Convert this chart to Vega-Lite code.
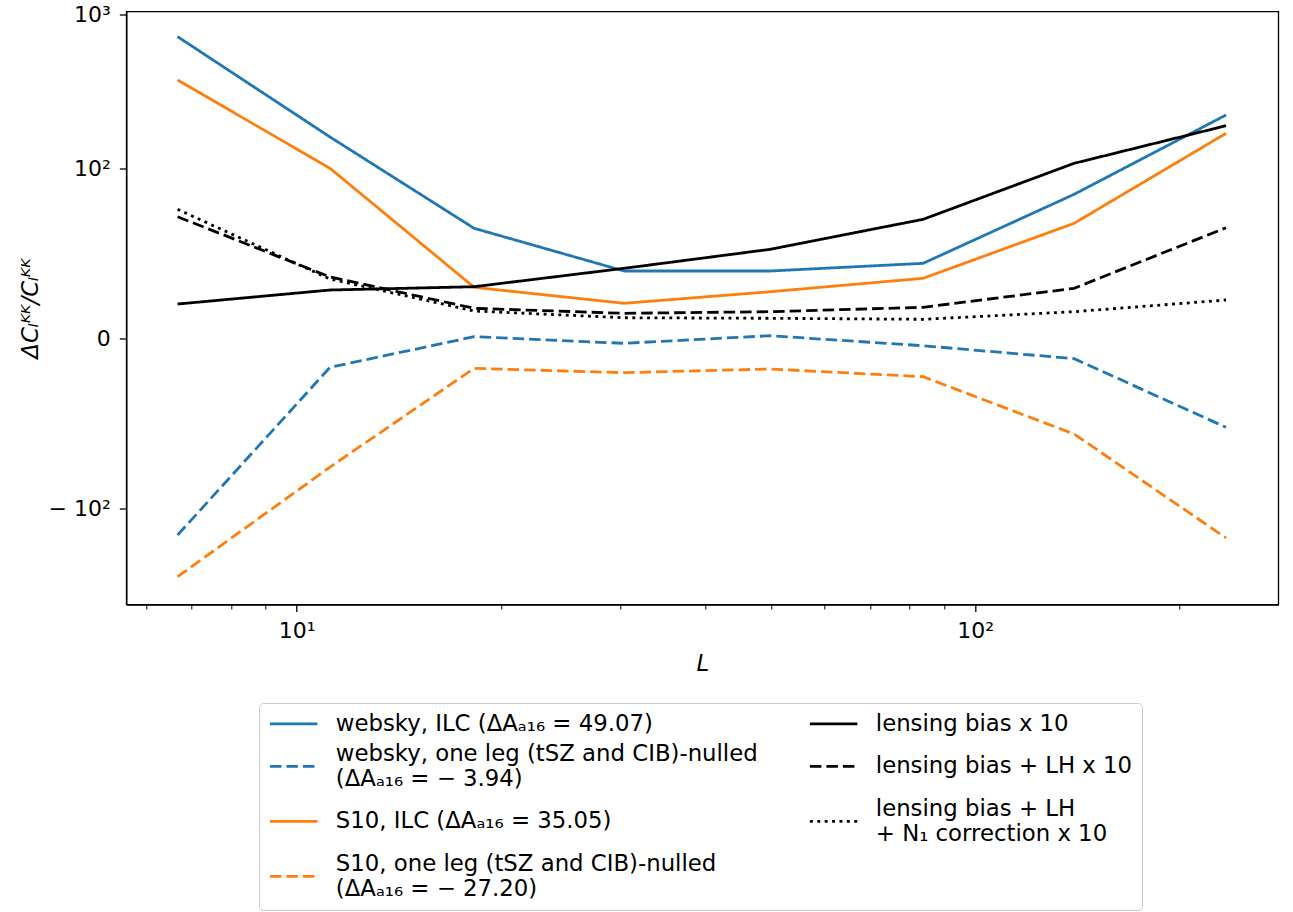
{
  "$schema": "https://vega.github.io/schema/vega-lite/v6.json",
  "width": 1152,
  "height": 593,
  "autosize": {"type": "none"},
  "padding": {"left": 126.3, "top": 11.5, "right": 14.7, "bottom": 307.5},
  "background": "#ffffff",
  "config": {
    "font": "DejaVu Sans",
    "view": {"stroke": "#000000", "strokeWidth": 1.3},
    "axis": {"grid": false, "domainColor": "#000000", "domainWidth": 1.3, "tickColor": "#000000", "tickWidth": 1.3, "tickSize": 7, "labelColor": "#000000", "titleColor": "#000000", "labelFont": "DejaVu Sans", "titleFont": "DejaVu Sans", "labelFontSize": 22, "titleFontSize": 22.8, "titleFontWeight": "normal"}
  },
  "data": {"values": [
    {"s": "websky, ILC (ΔAₐ₁₆ = 49.07)", "L": 6.673, "v": 725.1},
    {"s": "websky, ILC (ΔAₐ₁₆ = 49.07)", "L": 11.196, "v": 162.7},
    {"s": "websky, ILC (ΔAₐ₁₆ = 49.07)", "L": 18.26, "v": 36.55},
    {"s": "websky, ILC (ΔAₐ₁₆ = 49.07)", "L": 30.38, "v": 15.4},
    {"s": "websky, ILC (ΔAₐ₁₆ = 49.07)", "L": 49.87, "v": 15.4},
    {"s": "websky, ILC (ΔAₐ₁₆ = 49.07)", "L": 83.83, "v": 18.31},
    {"s": "websky, ILC (ΔAₐ₁₆ = 49.07)", "L": 139.96, "v": 65.7},
    {"s": "websky, ILC (ΔAₐ₁₆ = 49.07)", "L": 234.4, "v": 227.2},
    {"s": "websky, one leg (tSZ and CIB)-nulled\n (ΔAₐ₁₆ = − 3.94)", "L": 6.673, "v": -151.6},
    {"s": "websky, one leg (tSZ and CIB)-nulled\n (ΔAₐ₁₆ = − 3.94)", "L": 11.196, "v": -4.87},
    {"s": "websky, one leg (tSZ and CIB)-nulled\n (ΔAₐ₁₆ = − 3.94)", "L": 18.26, "v": 0.22},
    {"s": "websky, one leg (tSZ and CIB)-nulled\n (ΔAₐ₁₆ = − 3.94)", "L": 30.38, "v": -0.7},
    {"s": "websky, one leg (tSZ and CIB)-nulled\n (ΔAₐ₁₆ = − 3.94)", "L": 49.87, "v": 0.36},
    {"s": "websky, one leg (tSZ and CIB)-nulled\n (ΔAₐ₁₆ = − 3.94)", "L": 83.83, "v": -1.06},
    {"s": "websky, one leg (tSZ and CIB)-nulled\n (ΔAₐ₁₆ = − 3.94)", "L": 139.96, "v": -3.19},
    {"s": "websky, one leg (tSZ and CIB)-nulled\n (ΔAₐ₁₆ = − 3.94)", "L": 234.4, "v": -24.52},
    {"s": "S10, ILC (ΔAₐ₁₆ = 35.05)", "L": 6.673, "v": 383.1},
    {"s": "S10, ILC (ΔAₐ₁₆ = 35.05)", "L": 11.196, "v": 100.0},
    {"s": "S10, ILC (ΔAₐ₁₆ = 35.05)", "L": 18.26, "v": 10.2},
    {"s": "S10, ILC (ΔAₐ₁₆ = 35.05)", "L": 30.38, "v": 6.16},
    {"s": "S10, ILC (ΔAₐ₁₆ = 35.05)", "L": 49.87, "v": 8.99},
    {"s": "S10, ILC (ΔAₐ₁₆ = 35.05)", "L": 83.83, "v": 12.92},
    {"s": "S10, ILC (ΔAₐ₁₆ = 35.05)", "L": 139.96, "v": 39.99},
    {"s": "S10, ILC (ΔAₐ₁₆ = 35.05)", "L": 234.4, "v": 172.1},
    {"s": "S10, one leg (tSZ and CIB)-nulled\n (ΔAₐ₁₆ = − 27.20)", "L": 6.673, "v": -284.9},
    {"s": "S10, one leg (tSZ and CIB)-nulled\n (ΔAₐ₁₆ = − 27.20)", "L": 11.196, "v": -50.81},
    {"s": "S10, one leg (tSZ and CIB)-nulled\n (ΔAₐ₁₆ = − 27.20)", "L": 18.26, "v": -5.08},
    {"s": "S10, one leg (tSZ and CIB)-nulled\n (ΔAₐ₁₆ = − 27.20)", "L": 30.38, "v": -6.02},
    {"s": "S10, one leg (tSZ and CIB)-nulled\n (ΔAₐ₁₆ = − 27.20)", "L": 49.87, "v": -5.22},
    {"s": "S10, one leg (tSZ and CIB)-nulled\n (ΔAₐ₁₆ = − 27.20)", "L": 83.83, "v": -6.94},
    {"s": "S10, one leg (tSZ and CIB)-nulled\n (ΔAₐ₁₆ = − 27.20)", "L": 139.96, "v": -27.97},
    {"s": "S10, one leg (tSZ and CIB)-nulled\n (ΔAₐ₁₆ = − 27.20)", "L": 234.4, "v": -158.5},
    {"s": "lensing bias x 10", "L": 6.673, "v": 6.0},
    {"s": "lensing bias x 10", "L": 11.196, "v": 9.45},
    {"s": "lensing bias x 10", "L": 18.26, "v": 10.37},
    {"s": "lensing bias x 10", "L": 30.38, "v": 16.38},
    {"s": "lensing bias x 10", "L": 49.87, "v": 24.52},
    {"s": "lensing bias x 10", "L": 83.83, "v": 42.93},
    {"s": "lensing bias x 10", "L": 139.96, "v": 108.2},
    {"s": "lensing bias x 10", "L": 234.4, "v": 193.2},
    {"s": "lensing bias + LH x 10", "L": 6.673, "v": 44.93},
    {"s": "lensing bias + LH x 10", "L": 11.196, "v": 13.34},
    {"s": "lensing bias + LH x 10", "L": 18.26, "v": 5.08},
    {"s": "lensing bias + LH x 10", "L": 30.38, "v": 4.07},
    {"s": "lensing bias + LH x 10", "L": 49.87, "v": 4.39},
    {"s": "lensing bias + LH x 10", "L": 83.83, "v": 5.29},
    {"s": "lensing bias + LH x 10", "L": 139.96, "v": 9.92},
    {"s": "lensing bias + LH x 10", "L": 234.4, "v": 36.95},
    {"s": "lensing bias + LH\n+ N₁ correction x 10", "L": 6.673, "v": 51.07},
    {"s": "lensing bias + LH\n+ N₁ correction x 10", "L": 11.196, "v": 12.69},
    {"s": "lensing bias + LH\n+ N₁ correction x 10", "L": 18.26, "v": 4.53},
    {"s": "lensing bias + LH\n+ N₁ correction x 10", "L": 30.38, "v": 3.24},
    {"s": "lensing bias + LH\n+ N₁ correction x 10", "L": 49.87, "v": 3.14},
    {"s": "lensing bias + LH\n+ N₁ correction x 10", "L": 83.83, "v": 2.96},
    {"s": "lensing bias + LH\n+ N₁ correction x 10", "L": 139.96, "v": 4.39},
    {"s": "lensing bias + LH\n+ N₁ correction x 10", "L": 234.4, "v": 6.92}
  ]},
  "layer": [
    {
      "mark": {"type": "line", "strokeWidth": 2.8, "clip": true},
      "encoding": {
        "x": {"field": "L", "type": "quantitative",
          "scale": {"type": "log", "domain": [5.607, 279.9], "nice": false},
          "axis": {"orient": "bottom", "values": [10, 100], "labelExpr": "datum.value == 10 ? '10¹' : '10²'", "title": "L", "titleFontStyle": "italic", "labelPadding": 9, "titlePadding": 11}},
        "y": {"field": "v", "type": "quantitative",
          "scale": {"type": "symlog", "constant": 9.34, "domain": [-430.4, 1048.2], "nice": false, "zero": false},
          "axis": {"values": [-100, 0, 100, 1000], "labelExpr": "datum.value == 1000 ? '10³' : datum.value == 100 ? '10²' : datum.value == 0 ? '0' : '− 10²'", "title": "ΔCₗᴷᴷ/Cₗᴷᴷ", "titleFontStyle": "italic", "labelPadding": 9, "titlePadding": 6}},
        "color": {"field": "s", "type": "nominal",
          "scale": {
            "domain": ["websky, ILC (ΔAₐ₁₆ = 49.07)", "websky, one leg (tSZ and CIB)-nulled\n (ΔAₐ₁₆ = − 3.94)", "S10, ILC (ΔAₐ₁₆ = 35.05)", "S10, one leg (tSZ and CIB)-nulled\n (ΔAₐ₁₆ = − 27.20)", "lensing bias x 10", "lensing bias + LH x 10", "lensing bias + LH\n+ N₁ correction x 10"],
            "range": ["#1f77b4", "#1f77b4", "#ff7f0e", "#ff7f0e", "#000000", "#000000", "#000000"]},
          "legend": {"orient": "none", "legendX": 132.7, "legendY": 691.5, "columns": 2, "title": null, "labelFontSize": 22.8, "labelFont": "DejaVu Sans", "labelColor": "#000000", "labelLimit": 800, "labelExpr": "split(datum.label, '\\n')", "symbolType": "M-1,0L4,0", "symbolSize": 361, "symbolStrokeWidth": 2.8, "labelOffset": 45, "rowPadding": 6, "columnPadding": 46, "padding": 9, "strokeColor": "#cccccc", "cornerRadius": 4, "fillColor": "#ffffff", "encode": {"labels": {"update": {"lineHeight": {"value": 25}, "dy": {"signal": "indexof(datum.label, '\\n') >= 0 ? -12.5 : 0"}}}}}},
        "strokeDash": {"field": "s", "type": "nominal",
          "scale": {
            "domain": ["websky, ILC (ΔAₐ₁₆ = 49.07)", "websky, one leg (tSZ and CIB)-nulled\n (ΔAₐ₁₆ = − 3.94)", "S10, ILC (ΔAₐ₁₆ = 35.05)", "S10, one leg (tSZ and CIB)-nulled\n (ΔAₐ₁₆ = − 27.20)", "lensing bias x 10", "lensing bias + LH x 10", "lensing bias + LH\n+ N₁ correction x 10"],
            "range": [[1, 0], [11.5, 5], [1, 0], [11.5, 5], [1, 0], [11.5, 5], [2.9, 4.5]]},
          "legend": {"orient": "none", "legendX": 132.7, "legendY": 691.5, "columns": 2, "title": null, "labelFontSize": 22.8, "labelFont": "DejaVu Sans", "labelColor": "#000000", "labelLimit": 800, "labelExpr": "split(datum.label, '\\n')", "symbolType": "M-1,0L4,0", "symbolSize": 361, "symbolStrokeWidth": 2.8, "labelOffset": 45, "rowPadding": 6, "columnPadding": 46, "padding": 9, "strokeColor": "#cccccc", "cornerRadius": 4, "fillColor": "#ffffff", "encode": {"labels": {"update": {"lineHeight": {"value": 25}, "dy": {"signal": "indexof(datum.label, '\\n') >= 0 ? -12.5 : 0"}}}}}}
      }
    },
    {
      "mark": {"type": "line", "opacity": 0},
      "encoding": {
        "x": {"field": "L", "type": "quantitative",
          "scale": {"type": "log", "domain": [5.607, 279.9], "nice": false},
          "axis": {"orient": "bottom", "values": [6, 7, 8, 9, 20, 30, 40, 50, 60, 70, 80, 90, 200], "labels": false, "domain": false, "title": null, "tickSize": 4.5, "tickWidth": 1}},
        "y": {"field": "v", "type": "quantitative",
          "scale": {"type": "symlog", "constant": 9.34, "domain": [-430.4, 1048.2], "nice": false, "zero": false},
          "axis": {"values": [-100, 0, 100, 1000], "labelExpr": "datum.value == 1000 ? '10³' : datum.value == 100 ? '10²' : datum.value == 0 ? '0' : '− 10²'", "title": "ΔCₗᴷᴷ/Cₗᴷᴷ", "titleFontStyle": "italic", "labelPadding": 9, "titlePadding": 6}},
        "detail": {"field": "s", "type": "nominal"}
      }
    }
  ],
  "resolve": {"axis": {"x": "independent"}}
}
